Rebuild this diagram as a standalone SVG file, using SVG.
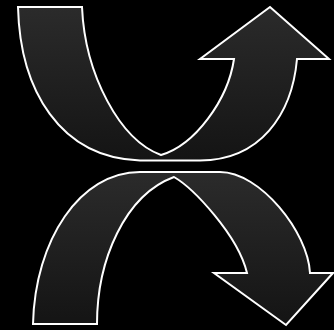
<svg xmlns="http://www.w3.org/2000/svg" width="334" height="330" viewBox="0 0 334 330">
  <defs>
    <linearGradient id="g" x1="0" y1="0" x2="0" y2="1">
      <stop offset="0" stop-color="#2b2b2b"/>
      <stop offset="1" stop-color="#141414"/>
    </linearGradient>
    <style>
      .arrow { fill: url(#g); stroke: #ffffff; stroke-width: 2; stroke-linejoin: miter; }
    </style>
  </defs>
  <rect width="334" height="330" fill="#000000"/>
  <g id="arrow-up">
    <path class="arrow" d="M18,7 L82,7 C85,75 120,140 161,155 C195,145 228,100 234,59 L200,59 L270,7 L329,59 L297,59 C292,115 260,160 200,160.5 L140,160.5 C60,158 20,90 18,7 Z"/>
  </g>
  <g id="arrow-down">
    <path class="arrow" d="M33,324 L97,324 C97,260 125,195 174,177 C193,188 238,235 247,273 L214,273 L286,325 L333,273 L310,273 C308,232 260,172 220,172 L140,172 C80,172 35,240 33,324 Z"/>
  </g>
</svg>
